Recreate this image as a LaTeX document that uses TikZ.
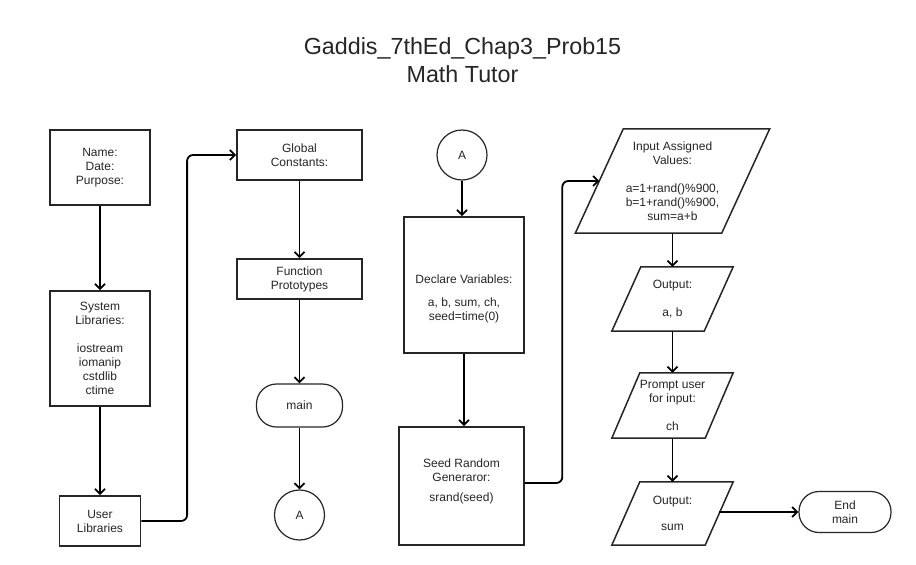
\documentclass[tikz,border=0pt]{standalone}
\usepackage{fontspec}
\setmainfont{Liberation Sans}
\usetikzlibrary{arrows.meta,calc}
\begin{document}
\begin{tikzpicture}[x=1pt,y=-1pt,
  every node/.style={font=\fontsize{12}{14}\selectfont, text=black!85, align=center, inner sep=0pt},
  bx/.style={draw=black!85, line width=1.8pt, rectangle},
  term/.style={draw=black!85, line width=1.2pt, rectangle, rounded corners=20pt},
  conn/.style={draw=black!85, line width=1.2pt, circle, minimum size=50pt},
  pbox/.style={draw=none, rectangle},
  pline/.style={draw=black!85, line width=1.5pt, line join=miter},
  arr/.style={draw=black, line width=1.8pt, -{Straight Barb[length=5pt,width=10pt,line width=1.8pt]}},
  lnk/.style={draw=black, line width=1.8pt, rounded corners=6pt, -{Straight Barb[length=5pt,width=10pt,line width=1.8pt]}}
]
\fill[white] (0,0) rectangle (916,565);
\useasboundingbox (0,0) rectangle (916,565);

% title
\node[font=\fontsize{23.3}{28}\selectfont] (title) at (462.5,60) {Gaddis\_7thEd\_Chap3\_Prob15\\Math Tutor};

% column 1
\node[bx, minimum width=100pt, minimum height=75pt] (name) at (100,167.5) {Name:\\Date:\\Purpose:};
\node[bx, minimum width=100pt, minimum height=115pt] (sys) at (100,348.5) {System\\Libraries:\\[14pt]iostream\\iomanip\\cstdlib\\ctime};
\node[bx, minimum width=81pt, minimum height=50pt] (user) at (100,521) {User\\Libraries};

% column 2
\node[bx, minimum width=125pt, minimum height=50pt] (glob) at (299.5,155) {Global\\Constants:};
\node[bx, minimum width=125pt, minimum height=40pt] (proto) at (299.5,279) {Function\\Prototypes};
\node[term, minimum width=86pt, minimum height=43pt] (main) at (299.5,405.5) {main};
\node[conn] (A1) at (299.5,515) {A};

% column 3
\node[conn] (A2) at (462,155) {A};
\node[bx, minimum width=120pt, minimum height=136pt] (decl) at (464,285) {\mbox{}\\[23pt]Declare Variables:\\[9pt]a, b, sum, ch,\\seed=time(0)};
\node[bx, minimum width=125pt, minimum height=118pt] (seed) at (461.5,486) {Seed Random\\Generaror:\\[6pt]srand(seed)\\[-2pt]\mbox{}};

% column 4 (parallelograms)
\node[pbox, minimum width=194pt, minimum height=104pt] (inp) at (672.5,181) {Input Assigned\\Values:\\[14pt]a=1+rand()\%900,\\b=1+rand()\%900,\\sum=a+b};
\draw[pline] ([xshift=48pt]inp.north west) -- (inp.north east) -- ([xshift=-48pt]inp.south east) -- (inp.south west) -- cycle;

\node[pbox, minimum width=121pt, minimum height=64pt] (outab) at (672.5,299) {Output:\\[14pt]a, b};
\draw[pline] ([xshift=29pt]outab.north west) -- (outab.north east) -- ([xshift=-29pt]outab.south east) -- (outab.south west) -- cycle;

\node[pbox, minimum width=121pt, minimum height=65pt] (prompt) at (672.5,405.5) {Prompt user\\for input:\\[14pt]ch};
\draw[pline] ([xshift=28pt]prompt.north west) -- (prompt.north east) -- ([xshift=-28pt]prompt.south east) -- (prompt.south west) -- cycle;

\node[pbox, minimum width=121pt, minimum height=63pt] (outsum) at (672.5,513.5) {Output:\\[12pt]sum};
\draw[pline] ([xshift=28pt]outsum.north west) -- (outsum.north east) -- ([xshift=-28pt]outsum.south east) -- (outsum.south west) -- cycle;

\node[term, minimum width=92pt, minimum height=41pt] (endm) at (845,512) {End\\main};

% connectors
\draw[arr] (name.south) -- (sys.north);
\draw[arr] (sys.south) -- (user.north);
\draw[lnk] (user.east) -| ([xshift=-49pt]glob.west) -- (glob.west);
\draw[arr] (glob.south) -- (proto.north);
\draw[arr] (proto.south) -- (main.north);
\draw[arr] (main.south) -- (A1.north);
\draw[arr] (A2.south) -- (A2.south |- decl.north);
\draw[arr] (decl.south) -- (decl.south |- seed.north);
\draw[lnk] ([yshift=3pt]seed.east) -| ([xshift=-13pt]inp.west) -- ([xshift=24pt]inp.west);
\draw[arr] ([xshift=-14pt]outsum.east |- endm.west) -- (endm.west);
\draw[arr] (inp.south) -- (outab.north);
\draw[arr] (outab.south) -- (prompt.north);
\draw[arr] (prompt.south) -- (outsum.north);
\end{tikzpicture}
\end{document}
